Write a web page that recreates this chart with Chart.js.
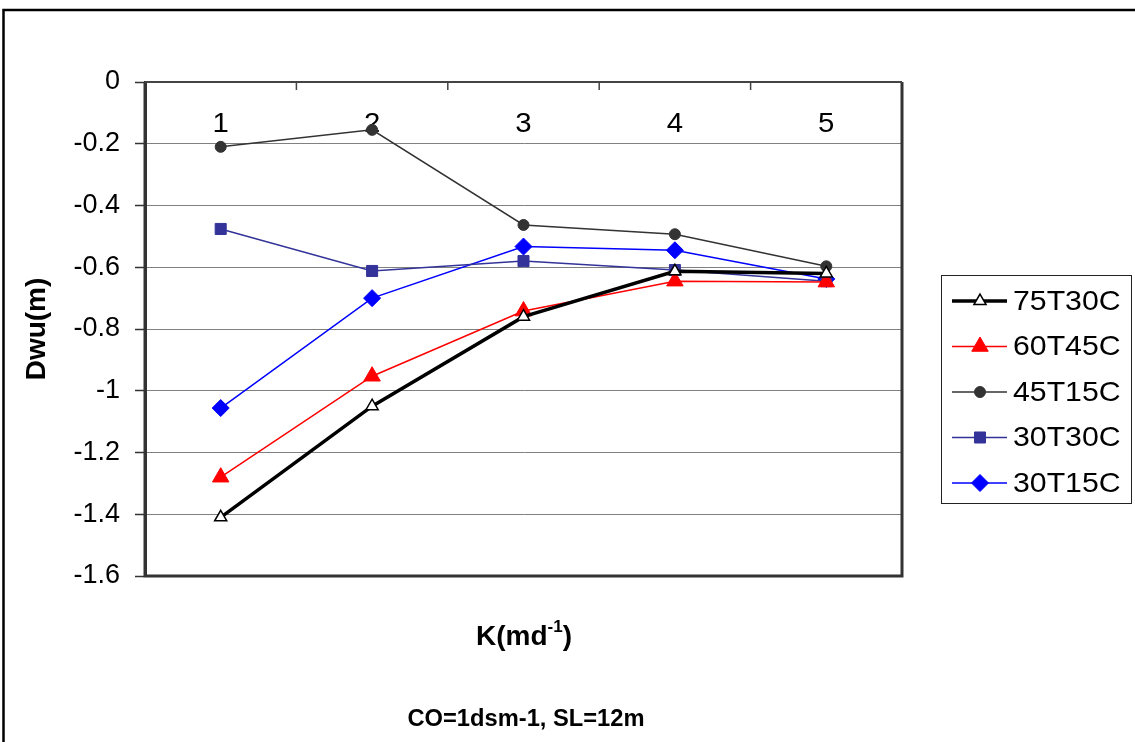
<!DOCTYPE html>
<html>
<head>
<meta charset="utf-8">
<script src="https://cdn.jsdelivr.net/npm/chart.js@4"></script>
<style>
  html, body { margin: 0; padding: 0; background: #fff; }
  canvas { display: block; }
</style>
</head>
<body>
<canvas id="c" width="1135" height="742"></canvas>
<script>
// K values (category axis) and Dwu series
const categories = ['1', '2', '3', '4', '5']
const s75T30C = [-1.41, -1.05, -0.76, -0.613, -0.62]
const s60T45C = [-1.28, -0.953, -0.742, -0.645, -0.648]
const s45T15C = [-0.21, -0.155, -0.463, -0.493, -0.597]
const s30T30C = [-0.476, -0.612, -0.58, -0.609, -0.645]
const s30T15C = [-1.056, -0.70, -0.533, -0.545, -0.638]
const seriesNames = ['75T30C', '60T45C', '45T15C', '30T30C', '30T15C']

const FONT = '"Liberation Sans", Arial, sans-serif'

const drawText = (ctx, text, x, y, font, align, sx) => {
  ctx.save()
  ctx.font = font
  ctx.fillStyle = '#000'
  ctx.textAlign = align
  ctx.textBaseline = 'middle'
  ctx.translate(x, y)
  ctx.scale(sx, 1)
  ctx.fillText(text, 0, 0)
  ctx.restore()
}

const decorations = {
  id: 'decorations',
  beforeDraw (chart) {
    const ctx = chart.ctx
    ctx.save()
    ctx.fillStyle = '#fff'
    ctx.fillRect(0, 0, chart.width, chart.height)
    // outer frame (top and left edges visible)
    ctx.strokeStyle = '#000'
    ctx.lineWidth = 2.5
    ctx.beginPath()
    ctx.moveTo(3.5, chart.height)
    ctx.lineTo(3.5, 10)
    ctx.lineTo(chart.width, 10)
    ctx.stroke()
    ctx.restore()
  },
  beforeDatasetsDraw (chart) {
    const ctx = chart.ctx
    const a = chart.chartArea
    const x = chart.scales.x
    ctx.save()
    ctx.strokeStyle = '#333'
    ctx.lineWidth = 3
    ctx.beginPath()
    ctx.moveTo(a.left, a.top)
    ctx.lineTo(a.left, a.bottom)
    ctx.lineTo(a.right, a.bottom)
    ctx.lineTo(a.right, a.top)
    ctx.stroke()
    ctx.lineWidth = 2
    ctx.strokeStyle = '#444'
    ctx.beginPath()
    ctx.moveTo(a.left, a.top)
    ctx.lineTo(a.right, a.top)
    ctx.stroke()
    // inward tick marks between categories on the top axis
    ctx.lineWidth = 1.5
    ctx.beginPath()
    for (let i = 0; i < categories.length - 1; i++) {
      const px = (x.getPixelForValue(i) + x.getPixelForValue(i + 1)) / 2
      ctx.moveTo(px, a.top)
      ctx.lineTo(px, a.top + 8)
    }
    ctx.stroke()
    ctx.restore()
    // category labels sit just under the top axis
    categories.forEach((c, i) => {
      drawText(ctx, c, x.getPixelForValue(i), 124, '28px ' + FONT, 'center', 1.05)
    })
  },
  afterDraw (chart) {
    const ctx = chart.ctx
    // legend
    ctx.save()
    ctx.strokeStyle = '#222'
    ctx.lineWidth = 1
    ctx.strokeRect(941.5, 275.5, 190, 228)
    ctx.restore()
    chart.data.datasets.forEach((ds, i) => {
      const y = 301 + i * 45.5
      ctx.save()
      ctx.strokeStyle = ds.borderColor
      ctx.lineWidth = ds.borderWidth
      ctx.beginPath()
      ctx.moveTo(952, y)
      ctx.lineTo(1007, y)
      ctx.stroke()
      ctx.fillStyle = ds.pointBackgroundColor
      ctx.strokeStyle = ds.pointBorderColor
      ctx.lineWidth = ds.pointBorderWidth
      Chart.helpers.drawPoint(ctx, {
        pointStyle: ds.pointStyle,
        radius: ds.pointRadius,
        rotation: 0,
        borderWidth: ds.pointBorderWidth
      }, 980, y)
      ctx.restore()
      drawText(ctx, ds.label, 1013, y + 1, '28px ' + FONT, 'left', 1.08)
    })

    // x axis title with superscript
    ctx.save()
    ctx.fillStyle = '#000'
    ctx.textBaseline = 'alphabetic'
    const big = 'bold 28px ' + FONT
    const small = 'bold 17px ' + FONT
    ctx.font = big
    const w1 = ctx.measureText('K(md').width
    const w3 = ctx.measureText(')').width
    ctx.font = small
    const w2 = ctx.measureText('-1').width
    let sx = 524 - (w1 + w2 + w3) / 2
    ctx.font = big
    ctx.fillText('K(md', sx, 645)
    ctx.font = small
    ctx.fillText('-1', sx + w1, 632)
    ctx.font = big
    ctx.fillText(')', sx + w1 + w2, 645)
    ctx.restore()

    drawText(ctx, 'CO=1dsm-1, SL=12m', 526, 720, 'bold 23px ' + FONT, 'center', 1.03)
  }
}

const makeSet = (label, data, color, width, style, radius, fill, pbw) => ({
  label,
  data,
  borderColor: color,
  borderWidth: width,
  pointStyle: style,
  pointRadius: radius,
  pointHoverRadius: radius,
  pointBackgroundColor: fill,
  pointBorderColor: color,
  pointBorderWidth: pbw,
  tension: 0,
  fill: false
})

new Chart(document.getElementById('c'), {
  type: 'line',
  data: {
    labels: categories,
    datasets: [
      makeSet(seriesNames[0], s75T30C, '#000000', 3.5, 'triangle', 7, '#ffffff', 1.5),
      makeSet(seriesNames[1], s60T45C, '#ff0000', 1.5, 'triangle', 9.5, '#ff0000', 1),
      makeSet(seriesNames[2], s45T15C, '#333333', 1.5, 'circle', 5.5, '#333333', 1),
      makeSet(seriesNames[3], s30T30C, '#333399', 1.5, 'rect', 7.8, '#333399', 1),
      makeSet(seriesNames[4], s30T15C, '#0000ff', 1.5, 'rectRot', 8.5, '#0000ff', 1)
    ]
  },
  options: {
    responsive: false,
    animation: false,
    devicePixelRatio: 1,
    layout: {
      padding: { left: 0, top: 82, right: 233, bottom: 166 }
    },
    plugins: {
      legend: { display: false },
      title: { display: false },
      tooltip: { enabled: false }
    },
    scales: {
      x: {
        type: 'category',
        offset: true,
        display: false
      },
      y: {
        min: -1.6,
        max: 0,
        afterFit: (scale) => { scale.width = 145 },
        ticks: {
          stepSize: 0.2,
          color: '#000',
          padding: 15,
          font: { family: FONT, size: 27 },
          callback: (v) => String(Math.round(v * 10) / 10)
        },
        grid: {
          color: '#808080',
          lineWidth: 1,
          tickLength: 10,
          tickColor: '#333',
          tickWidth: 1.5
        },
        border: { color: '#333', width: 3 },
        title: {
          display: true,
          text: 'Dwu(m)',
          color: '#000',
          font: { family: FONT, size: 28, weight: 'bold' },
          padding: { top: 20, bottom: 0 }
        }
      }
    }
  },
  plugins: [decorations]
})
</script>
</body>
</html>
